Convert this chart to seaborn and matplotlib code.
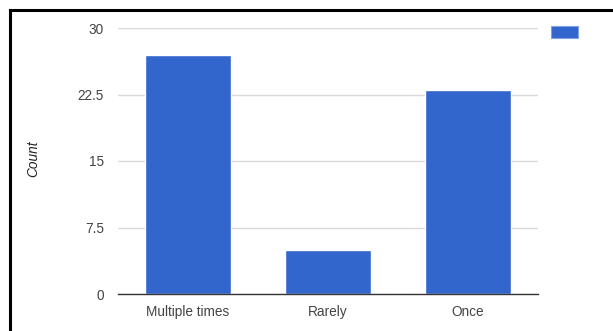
import matplotlib
matplotlib.use("Agg")
import matplotlib.pyplot as plt
import seaborn as sns
import pandas as pd
from matplotlib.patches import Patch
from matplotlib.lines import Line2D

# Survey response counts
categories = ["Multiple times", "Rarely", "Once"]
counts = [27, 5, 23]
y_ticks = [0, 7.5, 15, 22.5, 30]
y_tick_labels = ["0", "7.5", "15", "22.5", "30"]

BAR_COLOR = "#3366cc"
TEXT_COLOR = "#444444"

sns.set_theme(style="white")
plt.rcParams["font.family"] = ["Liberation Sans", "DejaVu Sans"]

df = pd.DataFrame({"category": categories, "count": counts})

fig = plt.figure(figsize=(6.13, 3.31), dpi=100)
ax = fig.add_axes([118 / 613, 37 / 331, 420 / 613, 266 / 331])

sns.barplot(data=df, x="category", y="count", color=BAR_COLOR,
            saturation=1, width=0.61, ax=ax, zorder=3)

ax.set_ylim(0, 30)
ax.set_xlim(-0.5, len(categories) - 0.5)
ax.set_yticks(y_ticks)
ax.set_yticklabels(y_tick_labels)

# horizontal gridlines and baseline
ax.yaxis.grid(True, color="#d9d9d9", linewidth=1, zorder=0)
ax.xaxis.grid(False)
ax.set_axisbelow(True)
for side in ["top", "right", "left"]:
    ax.spines[side].set_visible(False)
ax.spines["bottom"].set_color("#333333")
ax.spines["bottom"].set_linewidth(1)
ax.spines["bottom"].set_zorder(4)

ax.tick_params(axis="both", length=0, labelsize=9.8, colors=TEXT_COLOR)
ax.tick_params(axis="y", pad=10)
ax.tick_params(axis="x", pad=8)

ax.set_xlabel("")
ax.set_ylabel("")
fig.text(33 / 613, 1 - 159 / 331, "Count", rotation=90, ha="center",
         va="center", fontsize=9.8, style="italic", color="#222222")

# legend swatch without text
handle = Patch(facecolor=BAR_COLOR, edgecolor="#7f9fe6", linewidth=0.8)
fig.legend(handles=[handle], labels=[""], loc="upper left",
           bbox_to_anchor=(551 / 613, 1 - 26 / 331), frameon=False,
           fontsize=9, handlelength=2.16, handleheight=1.1,
           handletextpad=0, borderpad=0, borderaxespad=0)

# frame lines along top and left edges
fig.add_artist(Line2D([9.5 / 613, 1.0], [1 - 10 / 331, 1 - 10 / 331],
                      transform=fig.transFigure, color="black", linewidth=2.2,
                      solid_capstyle="projecting"))
fig.add_artist(Line2D([9.5 / 613, 9.5 / 613], [0, 1 - 10 / 331],
                      transform=fig.transFigure, color="black", linewidth=2.2,
                      solid_capstyle="projecting"))

fig.savefig("out.png", dpi=100)
